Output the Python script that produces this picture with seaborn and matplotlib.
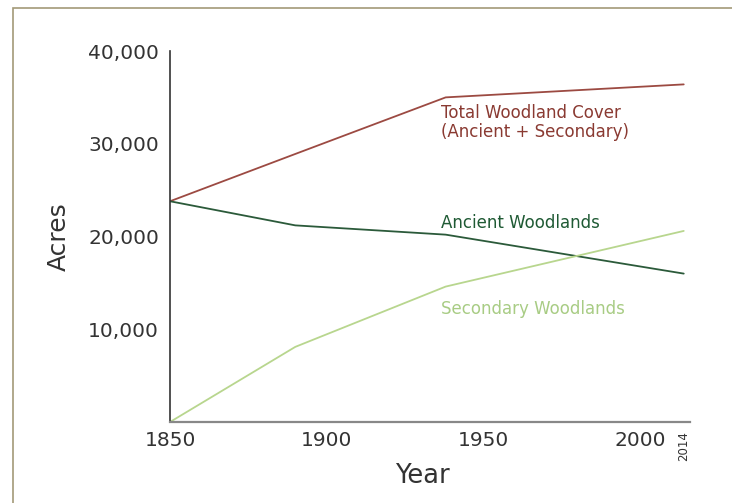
import numpy as np
import pandas as pd
import matplotlib.pyplot as plt
import seaborn as sns
from matplotlib.patches import Rectangle

YEARS = [1850, 1890, 1938, 2014]
TOTAL = [23800, 28900, 35000, 36400]
ANCIENT = [23800, 21200, 20200, 16000]
SECONDARY = [0, 8100, 14600, 20600]

X_TICKS = [1850, 1900, 1950, 2000, 2014]
Y_TICKS = [10000, 20000, 30000, 40000]

SERIES = {
    "Total Woodland Cover\n(Ancient + Secondary)": TOTAL,
    "Ancient Woodlands": ANCIENT,
    "Secondary Woodlands": SECONDARY,
}
PALETTE = {
    "Total Woodland Cover\n(Ancient + Secondary)": "#9c4a42",
    "Ancient Woodlands": "#2b5a3a",
    "Secondary Woodlands": "#b8d68e",
}
TEXT_COLORS = {
    "Total Woodland Cover\n(Ancient + Secondary)": "#8a3a32",
    "Ancient Woodlands": "#1f5a34",
    "Secondary Woodlands": "#a8cc84",
}
# label anchor (year, acres) for the in-plot annotations
LABEL_POS = {
    "Total Woodland Cover\n(Ancient + Secondary)": (1936.5, 34300),
    "Ancient Woodlands": (1936.5, 22450),
    "Secondary Woodlands": (1936.5, 13150),
}


def main():
    df = pd.concat(
        [pd.DataFrame({"year": YEARS, "acres": v, "series": k}) for k, v in SERIES.items()],
        ignore_index=True,
    )

    sns.set_style("white")
    plt.rcParams["font.family"] = ["DejaVu Sans"]

    fig = plt.figure(figsize=(7.32, 5.03), dpi=100)
    ax = fig.add_axes([170 / 732, 81 / 503, 520 / 732, 371 / 503])

    sns.lineplot(data=df, x="year", y="acres", hue="series", palette=PALETTE,
                 ax=ax, linewidth=1.3, legend=False)

    for name, (x, y) in LABEL_POS.items():
        ax.text(x, y, name, color=TEXT_COLORS[name], fontsize=12,
                va="top", ha="left", linespacing=1.1)

    ax.set_xlim(1850, 2016)
    ax.set_ylim(0, 40000)
    ax.set_xticks(X_TICKS)
    ax.set_yticks(Y_TICKS)
    ax.set_yticklabels([f"{v:,}" for v in Y_TICKS], fontsize=14.5, color="#333333")
    ax.set_xticklabels([str(t) for t in X_TICKS], fontsize=14.5, color="#333333")
    last = ax.get_xticklabels()[-1]
    last.set_rotation(90)
    last.set_fontsize(8.5)
    last.set_va("top")

    ax.tick_params(axis="x", direction="inout", length=7, width=1, color="#555555", pad=3)
    ax.tick_params(axis="y", direction="out", length=5, width=1, color="#777777", pad=3)

    for side in ["top", "right"]:
        ax.spines[side].set_visible(False)
    ax.spines["left"].set_color("#333333")
    ax.spines["left"].set_linewidth(1.2)
    ax.spines["bottom"].set_color("#888888")
    ax.spines["bottom"].set_linewidth(1.6)

    ax.set_xlabel("Year", fontsize=18.5, color="#333333")
    ax.set_ylabel("Acres", fontsize=18, color="#333333")
    ax.xaxis.set_label_coords(0.485, -0.11)
    ax.yaxis.set_label_coords(-0.19, 0.5)

    # frame around the figure (extends past the right and bottom edge)
    fig.patches.append(Rectangle((13 / 732, -0.05), 1.2, 495 / 503 + 0.05,
                                 transform=fig.transFigure, fill=False,
                                 edgecolor="#a39a78", linewidth=1.2))

    fig.savefig("out.png", dpi=100)


if __name__ == "__main__":
    main()
